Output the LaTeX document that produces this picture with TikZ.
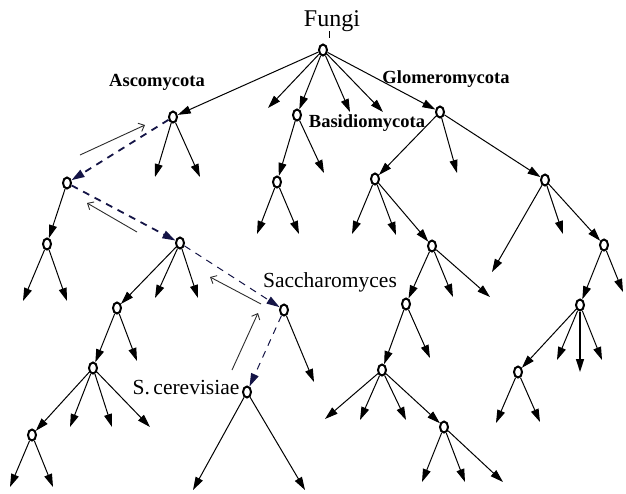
\documentclass[tikz,border=0pt]{standalone}
\usepackage{fontspec}
\setmainfont{Liberation Serif}
\usetikzlibrary{shapes.geometric, arrows.meta}
\definecolor{cPath}{RGB}{20,20,70}
\definecolor{cBack}{RGB}{45,45,45}
\tikzset{
	taxon/.style  ={ellipse, draw=black, line width=2pt, minimum width=8pt, minimum height=11pt, inner sep=0pt},
	branch/.style ={-{Triangle[length=13pt,width=8pt]}, line width=1pt},
	route/.style  ={-{Triangle[length=13pt,width=8pt]}, dash pattern=on 7pt off 6pt, color=cPath},
	back/.style   ={-{Straight Barb[length=5pt,width=9pt]}, line width=0.9pt, color=cBack},
	rank/.style   ={anchor=base, inner sep=0pt, font=\bfseries\fontsize{18.5}{20}\selectfont},
	genus/.style  ={anchor=base, inner sep=0pt, font=\fontsize{21.5}{23}\selectfont},
}
\begin{document}
\begin{tikzpicture}[x=1pt, y=-1pt]
	\useasboundingbox (0,0) rectangle (626,493);
	% inner nodes of the tree
	\foreach \n/\x/\y in {root/323/50, asc/173/117, bas/297/115, glo/440/112,
		L/67/183, LL/47/244, B/180/243, C/117/308, D/93/368, E/32/435,
		S/284/310, V/247/392, F/277/182, H/375/179, J/432/246, K/406/304,
		M/382/370, N/444/427, I/545/180, P/604/245, Q/580/305, R/518/372}
		\node[taxon] (\n) at (\x,\y) {};
	% labels
	\node[anchor=base, inner sep=0pt, font=\fontsize{24}{26}\selectfont] (fungi) at (332,26) {Fungi};
	\node[rank] (ascl) at (157,86) {Ascomycota};
	\node[rank] (basl) at (367,127) {Basidiomycota};
	\node[rank] (glol) at (446,83) {Glomeromycota};
	\node[genus] (sacl) at (330,287) {Saccharomyces};
	\node[genus] (cerl) at (186,394) {S.\,cerevisiae};
	\draw[line width=0.8pt] ([xshift=-3pt]fungi.south) -- ++(0,7);
	% edges between inner nodes
	\foreach \a/\b in {root/asc, root/bas, root/glo, L/LL, B/C, C/D, D/E, bas/F,
		glo/H, glo/I, H/J, J/K, K/M, M/N, I/P, P/Q, Q/R}
		\draw[branch] (\a) -- (\b);
	% leaves
	\foreach \p/\n/\x/\y in {root/t1/268/108, root/t2/350/112, root/t3/383/112,
		asc/t4/155/177, asc/t5/200/177, LL/t6/23/301, LL/t7/67/301,
		B/t8/155/298, B/t9/198/298, C/t10/137/361,
		D/t11/70/427, D/t12/112/427, D/t13/150/427, E/t14/10/487, E/t15/53/487,
		S/t16/314/382, V/t17/193/490, V/t18/305/490,
		bas/t19/324/173, F/t20/257/234, F/t21/299/234, glo/t22/457/173,
		H/t23/352/234, H/t24/396/235, J/t25/453/297, J/t26/490/297, K/t27/430/358,
		M/t28/325/419, M/t29/360/420, M/t30/406/420,
		N/t31/422/482, N/t32/465/482, N/t33/503/482,
		I/t34/492/272, I/t35/563/234, P/t36/623/292,
		Q/t37/557/360, Q/t39/602/360, R/t40/496/423, R/t41/540/422}
		{\coordinate (\n) at (\x,\y); \draw[branch] (\p) -- (\n);}
	\coordinate (t38) at (580,372);
	\draw[branch, line width=1.4pt] (Q) -- (t38);
	% path to S. cerevisiae
	\draw[route, line width=1.8pt] (asc) -- (L);
	\draw[route, line width=1.8pt] (L) -- (B);
	\draw[route, line width=1pt] (B) -- (S);
	\draw[route, line width=1pt] (S) -- (V);
	% way back up
	\coordinate (r1) at (80,155);  \coordinate (r1e) at (145,125);
	\coordinate (r2) at (137,232); \coordinate (r2e) at (87,203);
	\coordinate (r3) at (261,304); \coordinate (r3e) at (210,277);
	\coordinate (r4) at (232,370); \coordinate (r4e) at (258,313);
	\draw[back] (r1) -- (r1e);
	\draw[back] (r2) -- (r2e);
	\draw[back] (r3) -- (r3e);
	\draw[back] (r4) -- (r4e);
\end{tikzpicture}
\end{document}
